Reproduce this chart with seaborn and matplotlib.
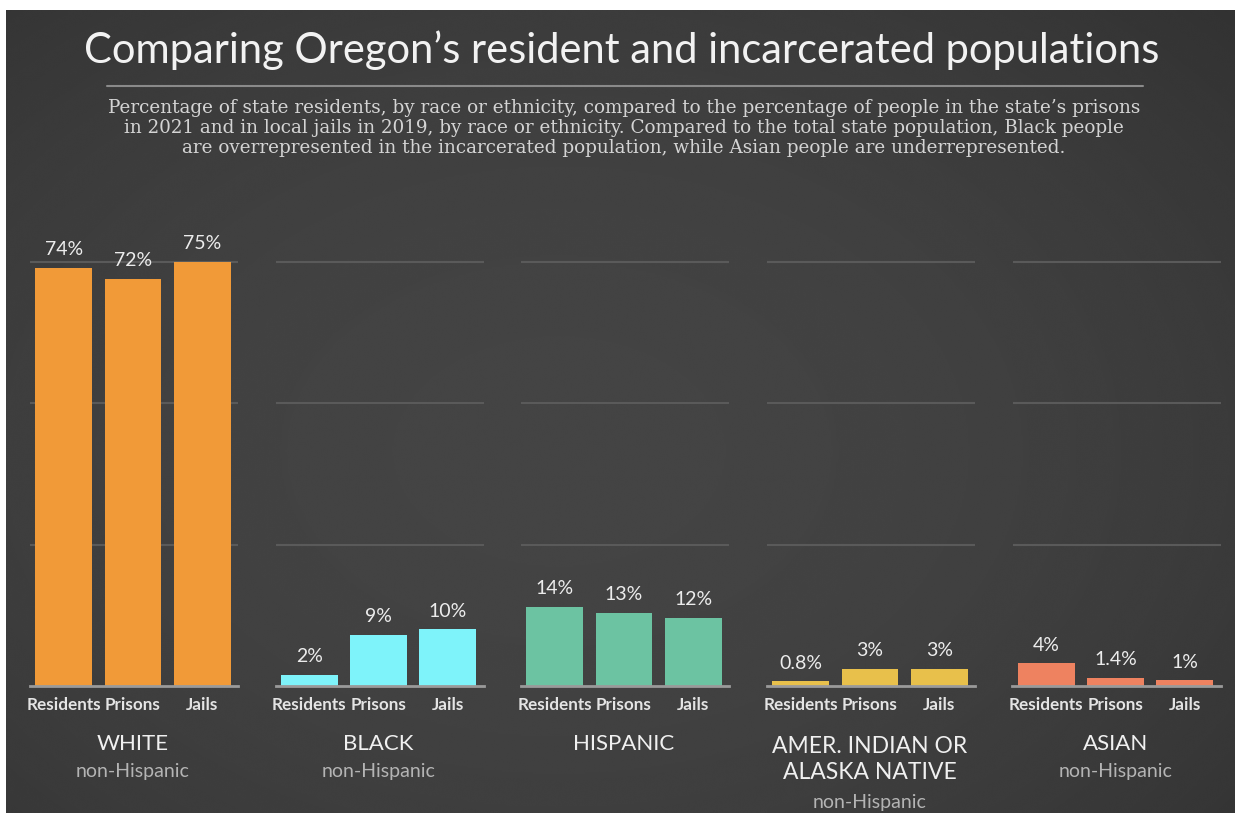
import numpy as np
import pandas as pd
import matplotlib
matplotlib.use("Agg")
import matplotlib.pyplot as plt
import seaborn as sns

# ---- data -------------------------------------------------------------
groups = ["WHITE", "BLACK", "HISPANIC", "AMER. INDIAN OR\nALASKA NATIVE", "ASIAN"]
group_notes = ["non-Hispanic", "non-Hispanic", "", "non-Hispanic", "non-Hispanic"]
places = ["Residents", "Prisons", "Jails"]
white_pct = [74, 72, 75]
black_pct = [2, 9, 10]
hispanic_pct = [14, 13, 12]
native_pct = [0.8, 3, 3]
asian_pct = [4, 1.4, 1]
group_colors = ["#F19A38", "#7EF3FA", "#6CC3A2", "#E8C04B", "#EE8260"]

series = [white_pct, black_pct, hispanic_pct, native_pct, asian_pct]

title = "Comparing Oregon\u2019s resident and incarcerated populations"
subtitle = ("Percentage of state residents, by race or ethnicity, compared to the percentage of people in the state\u2019s prisons\n"
            "in 2021 and in local jails in 2019, by race or ethnicity. Compared to the total state population, Black people\n"
            "are overrepresented in the incarcerated population, while Asian people are underrepresented.")

# ---- figure -----------------------------------------------------------
sns.set_theme(style="dark")
plt.rcParams["font.family"] = ["Lato", "DejaVu Sans"]

W, H = 1235, 813
fig = plt.figure(figsize=(W / 100, H / 100), dpi=100, facecolor="white")

# dark vignette backdrop
bg = fig.add_axes([6 / W, 0, 1 - 6 / W, (H - 10) / H], zorder=-10)
yy, xx = np.mgrid[0:1:400j, 0:1:600j]
r = np.sqrt(((xx - 0.45) / 0.75) ** 2 + ((yy - 0.55) / 0.8) ** 2)
shade = 0.268 - 0.07 * np.clip(r, 0, 1.2) ** 2
bg.imshow(shade, cmap="gray", vmin=0, vmax=1, aspect="auto", interpolation="bicubic")
bg.set_axis_off()

fig.text(622 / W, 1 - 50 / H, title, ha="center", va="center",
         fontsize=30, color="#f2f2f2")
fig.add_artist(plt.Line2D([107 / W, 1143 / W], [1 - 86 / H, 1 - 86 / H],
                          color="#8a8a8a", lw=1.5))
fig.text(624 / W, 1 - 128 / H, subtitle, ha="center", va="center",
         fontsize=13.2, color="#d4d4d4", family="DejaVu Serif", linespacing=1.12)

# ---- panels -----------------------------------------------------------
px_per_pct = 5.653
base_y = 686
ymax = 80
lefts = [30, 275.5, 521, 767, 1012.5]
panel_w = 208

for i, (vals, color) in enumerate(zip(series, group_colors)):
    ax = fig.add_axes([lefts[i] / W, (H - base_y) / H, panel_w / W,
                       ymax * px_per_pct / H])
    ax.set_facecolor("none")
    df = pd.DataFrame({"place": places, "pct": vals})
    sns.barplot(data=df, x="place", y="pct", color=color, saturation=1,
                width=0.82, ax=ax, zorder=3, linewidth=0, edgecolor="none")
    ax.set_xlim(-0.485, 2.515)
    ax.set_ylim(0, ymax)
    ax.set_yticks([25, 50, 75])
    ax.grid(axis="y", color="#5a5a5a", lw=1.5, zorder=0)
    ax.grid(axis="x", visible=False)
    ax.tick_params(axis="y", left=False, labelleft=False)
    ax.tick_params(axis="x", length=0, pad=8)
    for lab in ax.get_xticklabels():
        lab.set_fontweight("bold")
        lab.set_fontsize(12.3)
        lab.set_color("#e4e4e4")
    ax.set_xlabel("")
    ax.set_ylabel("")
    for side in ["left", "right", "top"]:
        ax.spines[side].set_visible(False)
    ax.spines["bottom"].set_color("#9a9a9a")
    ax.spines["bottom"].set_linewidth(2)
    ax.spines["bottom"].set_zorder(4)

    for j, v in enumerate(vals):
        txt = f"{v:g}%"
        ax.annotate(txt, (j, v), xytext=(0, 7), textcoords="offset points",
                    ha="center", va="bottom", fontsize=14, color="#ececec")

    cx = (lefts[i] + panel_w / 2 - 1) / W
    name = groups[i]
    nlines = name.count("\n") + 1
    if nlines > 1:
        fig.text(cx, 1 - 736 / H, name, ha="center", va="top",
                 fontsize=16.5, color="#f0f0f0", linespacing=1.32)
    else:
        fig.text(cx, 1 - 744 / H, name, ha="center", va="center",
                 fontsize=16, color="#f0f0f0")
    if group_notes[i]:
        note_y = 771 if nlines == 1 else 802
        fig.text(cx, 1 - note_y / H, group_notes[i], ha="center", va="center",
                 fontsize=14, color="#b4b4b4")

fig.savefig("out.png", dpi=100, facecolor=fig.get_facecolor())
